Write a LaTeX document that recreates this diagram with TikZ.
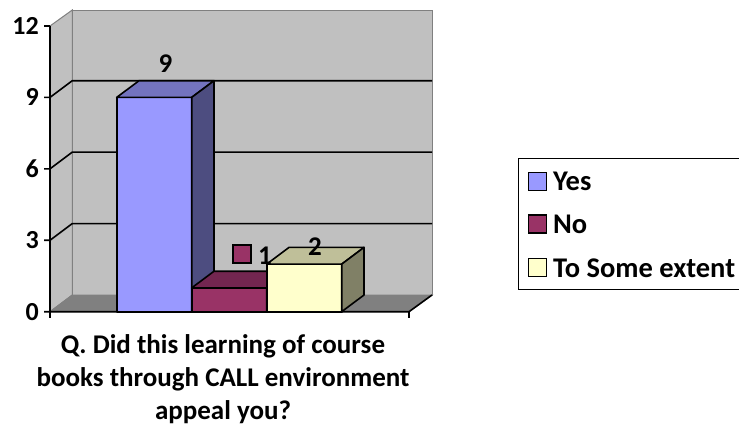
\documentclass[tikz,border=0pt]{standalone}
\usepackage{fontspec}
\setmainfont{Carlito}
\definecolor{wallc}{HTML}{C0C0C0}
\definecolor{floorc}{HTML}{808080}
\definecolor{yesF}{HTML}{9999FF}
\definecolor{yesT}{HTML}{7373BF}
\definecolor{yesS}{HTML}{4D4D80}
\definecolor{noF}{HTML}{993366}
\definecolor{noT}{HTML}{732650}
\definecolor{noS}{HTML}{4D1A33}
\definecolor{exF}{HTML}{FFFFCC}
\definecolor{exT}{HTML}{BFBF99}
\definecolor{exS}{HTML}{808066}
\tikzset{
  axl/.style={font=\fontsize{26}{30}\selectfont\bfseries, inner sep=0pt},
  lbl/.style={font=\fontsize{27}{32}\selectfont\bfseries, inner sep=0pt},
  leg/.style={font=\fontsize{28.5}{32}\selectfont\bfseries, inner sep=0pt, anchor=base west},
  ttl/.style={font=\fontsize{27}{32}\selectfont\bfseries, inner sep=0pt, anchor=base},
  edge/.style={draw=black, line width=1.6pt, line join=round},
  wall/.style={draw=floorc, line width=1pt},
  grid/.style={draw=black, line width=1.6pt},
  keybox/.style={draw=black, line width=1.4pt, minimum size=18pt, inner sep=0pt},
}
% bar: x0, x1, ytop, front, top, side
\newcommand\cubebar[6]{%
  \path[edge, fill=#4] (#1,311.7) rectangle (#2,#3);
  \path[edge, fill=#5] (#1,#3) -- (#1+22.3,#3-16.7) -- (#2+22.3,#3-16.7) -- (#2,#3) -- cycle;
  \path[edge, fill=#6] (#2,#3) -- (#2+22.3,#3-16.7) -- (#2+22.3,295) -- (#2,311.7) -- cycle;
}
\begin{document}
\begin{tikzpicture}[x=1pt,y=-1pt]
\clip (0,0) rectangle (739,431);
\fill[white] (0,0) rectangle (739,431);
% walls
\path[wall, fill=wallc] (72.3,10) rectangle (432,295);
\path[wall, fill=wallc] (50,26) -- (72.3,10) -- (72.3,295) -- (50,311.7) -- cycle;
\path[wall, fill=floorc] (50,311.7) -- (72.3,295) -- (432,295) -- (409,311.7) -- cycle;
% gridlines
\foreach \v in {3,6,9} {
  \draw[grid] (44,311.7-\v*23.81) -- (50,311.7-\v*23.81) -- (72.3,295-\v*23.81) -- (432,295-\v*23.81);
}
\draw[grid] (44,26) -- (50,26);
\draw[grid] (44,311.7) -- (409,311.7) -- (432,295);
\draw[grid] (50,26) -- (50,318);
\draw[grid] (409,311.7) -- (409,318);
% bars
\cubebar{116.7}{191.7}{97.4}{yesF}{yesT}{yesS}
\cubebar{191.7}{266.7}{287.9}{noF}{noT}{noS}
\cubebar{266.7}{341.7}{264.1}{exF}{exT}{exS}
% axis labels
\foreach \v/\t in {0/0,3/3,6/6,9/9,12/12} {
  \node[axl, anchor=east] (ax\v) at (39,311.7-\v*23.81) {\t};
}
% data labels
\node[lbl] (l9) at (165.5,63.7) {9};
\node[keybox, fill=noF] (k1) at (242,253.8) {};
\node[lbl] (l1) at (265,256) {1};
\node[lbl] (l2) at (315,247) {2};
% title
\node[ttl] (t1) at (223,353) {Q. Did this learning of course};
\node[ttl] (t2) at (223,386) {books through CALL environment};
\node[ttl] (t3) at (223,419) {appeal you?};
% legend
\draw[black, line width=1.6pt] (518.3,158.3) rectangle (760,289.3);
\node[keybox, fill=yesF] (ky) at (537.2,181.2) {};
\node[keybox, fill=noF] (kn) at (537.2,224) {};
\node[keybox, fill=exF] (ke) at (537.2,267.5) {};
\node[leg] (ly) at (553,190.7) {Yes};
\node[leg] (ln) at (553,233.5) {No};
\node[leg] (le) at (553,277) {To Some extent};
\end{tikzpicture}
\end{document}
